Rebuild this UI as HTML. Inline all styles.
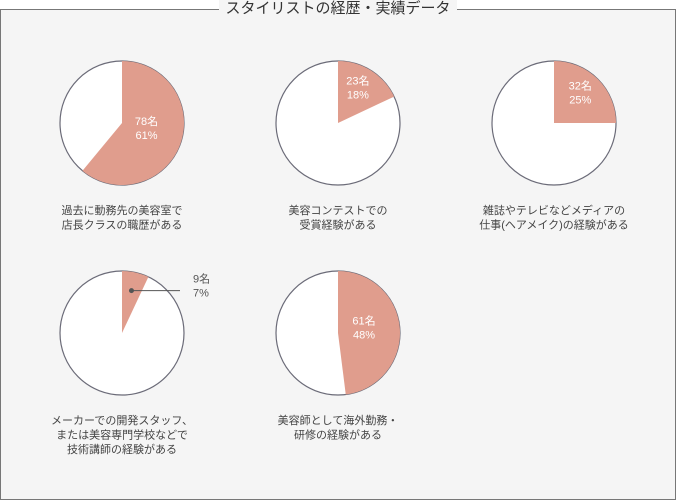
<!DOCTYPE html>
<html><head><meta charset="utf-8"><style>
html,body{margin:0;padding:0;background:#fff}
body{width:676px;height:500px;position:relative;overflow:hidden;font-family:"Liberation Sans","Noto Sans CJK JP",sans-serif}
#frame{position:absolute;left:0;top:9px;width:674px;height:489px;border:1px solid #777;background:#f5f5f5}
#title{position:absolute;top:0;left:0;width:676px;text-align:center;font-size:15px;line-height:18px;color:#333}
#title span{background:#f5f5f5;padding:0 6px}
svg{position:absolute;left:0;top:0}
</style></head><body>
<div id="frame"></div>
<div id="title"><span>スタイリストの経歴・実績データ</span></div>
<svg id="c" width="676" height="500"></svg>
<script>
const counts=[78,23,32,9,61];
const percents=[61,18,25,7,48];
const captions=[["過去に動務先の美容室で","店長クラスの職歴がある"],["美容コンテストでの","受賞経験がある"],["雑誌やテレビなどメディアの","仕事(ヘアメイク)の経験がある"],["メーカーでの開発スタッフ、","または美容専門学校などで","技術講師の経験がある"],["美容師として海外勤務・","研修の経験がある"]];
const NS="http://www.w3.org/2000/svg";
const svg=document.getElementById('c');
const centers=[[122,123],[338,123],[554,123],[122,333],[338,333]];
const R=62;
function mk(t,a){const e=document.createElementNS(NS,t);for(const k in a)e.setAttribute(k,a[k]);svg.appendChild(e);return e;}
function pt(cx,cy,r,f){const a=f*2*Math.PI;return [cx+r*Math.sin(a),cy-r*Math.cos(a)];}
percents.forEach((p,i)=>{
  const [cx,cy]=centers[i];const f=p/100;
  const c=mk('circle',{cx,cy,r:R,fill:'#fff',stroke:'#6b6b78','stroke-width':1.2});
  
  
  const [x,y]=pt(cx,cy,R,f);
  const s=mk('path',{d:`M${cx},${cy}L${cx},${cy-R}A${R},${R} 0 ${f>0.5?1:0} 1 ${x},${y}Z`,fill:'#e09d8d'});
  
  
  const mid=f/2;
  let lx,ly,col='#fff',anchor='middle';
  if(f<0.12){
    const [dx,dy]=pt(cx,cy,R*0.7,mid);
    const d=mk('circle',{cx:dx,cy:dy,r:2.5,fill:'#555'});
    
    
    const l=mk('line',{x1:dx,y1:dy,x2:cx+58,y2:dy,stroke:'#555','stroke-width':1});
    
    
    lx=cx+71;ly=dy-8;col='#555';anchor='start';
  } else {
    const r2=f>0.4?R*0.42:R*0.6;
    [lx,ly]=pt(cx,cy,r2,mid);ly-=7;
  }
  const t1=mk('text',{x:lx,y:ly,fill:col,'font-size':11,'text-anchor':anchor});t1.textContent=counts[i]+'名';
  
  
  const t2=mk('text',{x:lx,y:ly+14,fill:col,'font-size':11,'text-anchor':anchor});t2.textContent=p+'%';
  
  
  captions[i].forEach((ln,j)=>{
    const t=mk('text',{x:cx,y:cy+91+j*14.5,fill:'#444','font-size':11,'text-anchor':'middle'});t.textContent=ln;
    
    
  });
});
</script>
</body></html>
